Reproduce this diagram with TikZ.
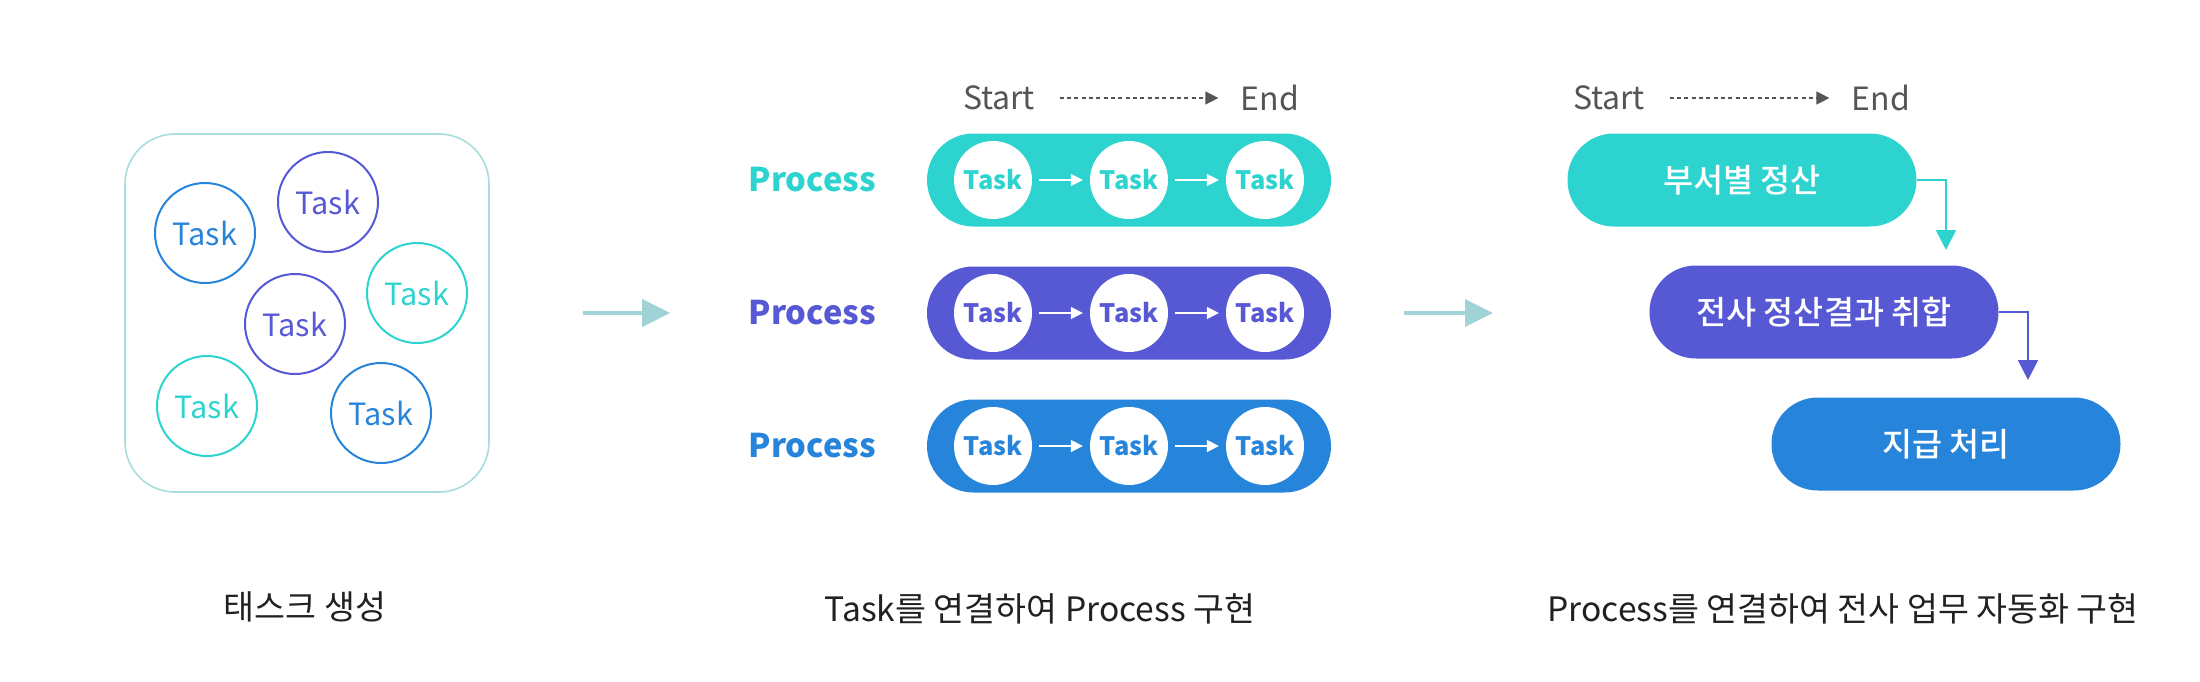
\documentclass[tikz,border=0pt]{standalone}
\usepackage{fontspec}
\setmainfont{Noto Sans CJK KR}
\newfontfamily\krmed{Noto Sans CJK KR}[UprightFont=* Medium]
\usetikzlibrary{arrows.meta,positioning}

\definecolor{cteal}{RGB}{45,212,207}
\definecolor{cpurp}{RGB}{86,88,212}
\definecolor{cblue}{RGB}{39,132,219}
\definecolor{cgray}{RGB}{85,85,85}
\definecolor{cline}{RGB}{159,211,214}
\definecolor{cbox}{RGB}{168,220,221}

\tikzset{every picture/.style={line width=0.75pt}}
\tikzset{
  looseTask/.style={circle,draw=#1,text=#1,line width=1.5pt,minimum size=75pt,inner sep=0pt,font=\fontsize{23}{28}\selectfont},
  pill/.style={rectangle,rounded corners=34.8pt,fill=#1,minimum height=69.75pt,inner sep=0pt},
  procLabel/.style={text=#1,inner sep=0pt,font=\bfseries\fontsize{24.5}{29}\selectfont},
  innerTask/.style={circle,fill=white,text=#1,minimum size=58.5pt,inner sep=0pt,font=\bfseries\fontsize{19}{23}\selectfont},
  innerArrow/.style={white,line width=1.2pt,-{Triangle[length=9pt,width=9pt]},shorten <=5pt,shorten >=5pt},
  endLabel/.style={text=cgray,inner sep=0pt,font=\fontsize{24}{29}\selectfont},
  dotArrow/.style={cgray,line width=0.9pt,dash pattern=on 3pt off 2.5pt,-{Triangle[length=9.75pt,width=9.75pt]}},
  bigArrow/.style={cline,line width=3pt,-{Triangle[length=21pt,width=20pt]}},
  stepText/.style={text=white,font=\krmed\fontsize{24.5}{29}\selectfont},
  stepLink/.style={draw=#1,line width=1.2pt,-{Triangle[length=15pt,width=15pt]}},
  caption/.style={text=black!87,inner sep=0pt,font=\fontsize{25.2}{30}\selectfont},
}

\begin{document}
\begin{tikzpicture}[x=0.75pt,y=0.75pt,yscale=-1,xscale=1]
\useasboundingbox (0,0) rectangle (2200,682);

%Shape: Rounded Rect [pool of tasks]
\node[draw=cbox,line width=1.2pt,rounded corners=37.5pt,minimum width=273pt,minimum height=268.5pt] (pool) at (307,313) {};
%Shape: Circles [loose tasks]
\foreach \n/\px/\py/\c in {t1/205/233/cblue,t2/328/202/cpurp,t3/417/293/cteal,t4/295/324/cpurp,t5/207/406/cteal,t6/381/413/cblue}
  \node[looseTask=\c] (\n) at (\px,\py) {Task};

% Start -> End (middle)
\node[endLabel] (start1) at (999,98) {Start};
\node[endLabel] (end1) at (1270,98) {End};
\draw[dotArrow,shorten <=18pt,shorten >=16.5pt] (start1.east) -- (start1.east -| end1.west);

%Shape: Pills with linked tasks
\foreach \r/\py/\c in {1/180/cteal,2/313/cpurp,3/446/cblue}{
  \node[pill=\c,minimum width=303pt] (proc\r) at (1129,\py) {};
  \node[procLabel=\c,left=37.5pt of proc\r] (name\r) {Process};
  \node[innerTask=\c] (task\r-1) at (993,\py) {Task};
  \node[innerTask=\c] (task\r-2) at (1129,\py) {Task};
  \node[innerTask=\c] (task\r-3) at (1265,\py) {Task};
  \draw[innerArrow] (task\r-1) -- (task\r-2);
  \draw[innerArrow] (task\r-2) -- (task\r-3);
}

% Start -> End (right)
\node[endLabel] (start2) at (1609,98) {Start};
\node[endLabel] (end2) at (1881,98) {End};
\draw[dotArrow,shorten <=18pt,shorten >=16.5pt] (start2.east) -- (start2.east -| end2.west);

%Shape: Pills with linked processes
\node[pill=cteal,minimum width=261.75pt,stepText] (dept) at (1742,180) {부서별 정산};
\node[pill=cpurp,minimum width=261.75pt,stepText] (merge) at (1824,312) {전사 정산결과 취합};
\node[pill=cblue,minimum width=261.75pt,stepText] (pay) at (1946,444) {지급 처리};
\coordinate (drop1) at (1946,250);
\coordinate (drop2) at (2028,380);
\draw[stepLink=cteal] (dept.east) -| (drop1);
\draw[stepLink=cpurp] (merge.east) -| (drop2);

%Straight Lines [between sections]
\draw[bigArrow,shorten <=70pt,shorten >=58.5pt] (pool.east) -- (pool.east -| name2.west);
\draw[bigArrow,shorten <=54pt,shorten >=55.5pt] (proc2.east) -- (proc2.east -| dept.west);

% Text Node
\node[caption] (cap1) at (305,607) {태스크 생성};
% Text Node
\node[caption] (cap2) at (1040,609) {Task를 연결하여 Process 구현};
% Text Node
\node[caption] (cap3) at (1843,609) {Process를 연결하여 전사 업무 자동화 구현};

\end{tikzpicture}
\end{document}
